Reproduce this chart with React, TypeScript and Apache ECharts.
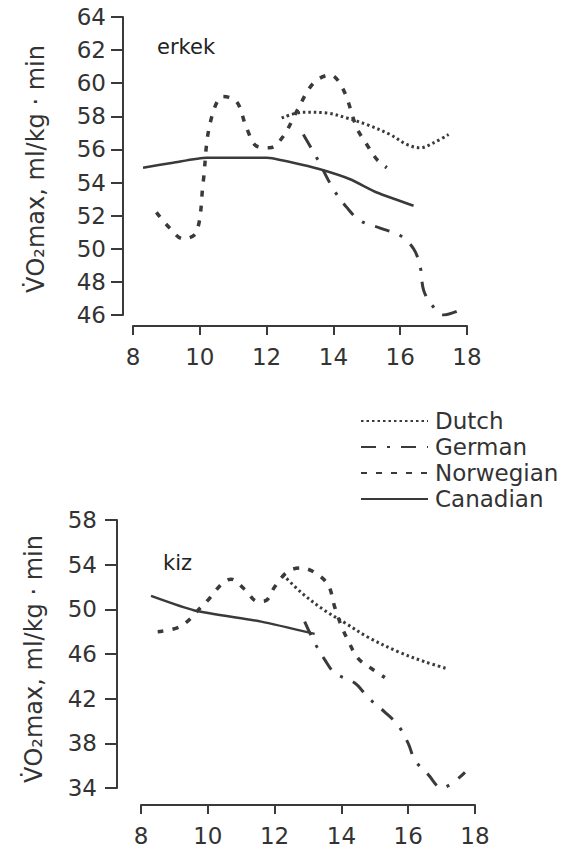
import React, { useEffect, useRef } from "react";
import * as echarts from "echarts";

// ---------- data ----------
const SERIES_NAMES = ["Dutch", "German", "Norwegian", "Canadian"];
const X_TICKS = [8, 10, 12, 14, 16, 18];
const TOP_Y_TICKS = [46, 48, 50, 52, 54, 56, 58, 60, 62, 64];
const BOTTOM_Y_TICKS = [34, 38, 42, 46, 50, 54, 58];

// erkek (boys)
const erkekDutch = [[12.45, 57.9], [13.1, 58.25], [13.8, 58.2], [14.4, 57.9], [15.0, 57.5], [15.7, 56.9], [16.2, 56.3], [16.6, 56.1], [17.0, 56.4], [17.45, 56.9]];
const erkekGerman = [[13.1, 56.9], [13.5, 55.5], [14.0, 53.6], [14.4, 52.5], [14.8, 51.7], [15.4, 51.25], [16.0, 50.8], [16.4, 50.0], [16.6, 48.9], [16.7, 47.5], [16.95, 46.6], [17.3, 46.0], [17.9, 46.4]];
const erkekNorwegian = [[8.7, 52.2], [9.1, 51.25], [9.5, 50.6], [9.9, 51.0], [10.1, 54.0], [10.3, 57.5], [10.7, 59.2], [11.1, 58.9], [11.4, 57.3], [11.7, 56.2], [12.1, 56.1], [12.5, 56.8], [12.9, 58.3], [13.4, 60.0], [13.9, 60.5], [14.3, 59.6], [14.7, 57.3], [15.0, 56.3], [15.3, 55.4], [15.6, 54.9]];
const erkekCanadian = [[8.3, 54.9], [9.2, 55.2], [10.2, 55.5], [12.0, 55.5], [12.8, 55.2], [13.6, 54.8], [14.5, 54.2], [15.3, 53.4], [16.4, 52.6]];

// kiz (girls)
const kizDutch = [[12.25, 53.1], [12.8, 51.5], [13.5, 49.9], [14.1, 48.8], [14.8, 47.5], [15.7, 46.2], [16.5, 45.3], [17.15, 44.7]];
const kizGerman = [[12.9, 48.9], [13.2, 47.0], [13.5, 45.5], [13.8, 44.3], [14.4, 43.4], [14.8, 42.1], [15.3, 40.8], [15.7, 39.6], [16.0, 38.0], [16.2, 36.5], [16.6, 35.2], [17.0, 34.0], [17.7, 35.4]];
const kizNorwegian = [[8.5, 48.0], [9.2, 48.5], [9.9, 50.5], [10.7, 52.7], [11.1, 51.8], [11.5, 50.7], [11.75, 50.8], [12.0, 52.0], [12.4, 53.4], [12.8, 53.7], [13.2, 53.3], [13.6, 52.2], [13.8, 50.2], [14.0, 48.5], [14.2, 47.2], [14.5, 45.6], [14.9, 44.7], [15.3, 43.9]];
const kizCanadian = [[8.3, 51.2], [9.6, 49.9], [11.6, 48.9], [13.2, 47.8]];

const Y_NAME = "V\u0307O\u2082max, ml/kg \u00b7 min";
const PANEL_LABELS = ["erkek", "kiz"];

// ---------- styles ----------
const INK = "#3a3a3a";
const TEXT = "#333333";
const FONT = "DejaVu Sans";

const lineStyles: Record<string, any> = {
  Dutch: { width: 3, type: [2.5, 3] },
  German: { width: 3, type: [15, 11, 3, 11] },
  Norwegian: { width: 3.5, type: [6, 9] },
  Canadian: { width: 2.5, type: "solid" },
};

function makeSeries(name: string, data: number[][], idx: number) {
  return {
    name,
    type: "line",
    xAxisIndex: idx,
    yAxisIndex: idx,
    data,
    symbol: "none",
    smooth: name === "Canadian" ? 0.2 : 0.35,
    lineStyle: { color: INK, ...lineStyles[name] },
    itemStyle: { color: INK },
  };
}

function xAxisCfg(gridIndex: number, offset: number) {
  return {
    gridIndex,
    type: "value",
    min: X_TICKS[0],
    max: X_TICKS[X_TICKS.length - 1],
    interval: 2,
    offset,
    axisLine: { show: true, onZero: false, lineStyle: { color: INK, width: 2 } },
    axisTick: { show: true, inside: false, length: 9, lineStyle: { color: INK, width: 2 } },
    axisLabel: { fontSize: 23, color: TEXT, margin: 19, fontFamily: FONT, showMinLabel: true, showMaxLabel: true },
    splitLine: { show: false },
  };
}

export default function App() {
  const ref = useRef<HTMLDivElement>(null);
  useEffect(() => {
    if (!ref.current) return;
    const chart = echarts.init(ref.current, undefined, { renderer: "svg" });
    const series: any[] = [];
    const top = [erkekDutch, erkekGerman, erkekNorwegian, erkekCanadian];
    const bot = [kizDutch, kizGerman, kizNorwegian, kizCanadian];
    SERIES_NAMES.forEach((n, i) => series.push(makeSeries(n, top[i], 0)));
    SERIES_NAMES.forEach((n, i) => series.push(makeSeries(n, bot[i], 1)));

    const option: any = {
      animation: false,
      backgroundColor: "#ffffff",
      textStyle: { fontFamily: FONT },
      grid: [
        { left: 133, top: 17, width: 334, height: 298 },
        { left: 141, top: 520, width: 334, height: 268 },
      ],
      xAxis: [xAxisCfg(0, 11), xAxisCfg(1, 17)],
      yAxis: [
        {
          gridIndex: 0,
          type: "value",
          min: TOP_Y_TICKS[0],
          max: TOP_Y_TICKS[TOP_Y_TICKS.length - 1],
          interval: 2,
          offset: 10,
          axisLine: { show: true, onZero: false, lineStyle: { color: INK, width: 2 } },
          axisTick: { show: true, inside: false, length: 12, lineStyle: { color: INK, width: 2 } },
          axisLabel: { fontSize: 23, color: TEXT, margin: 17, fontFamily: FONT, showMinLabel: true, showMaxLabel: true },
          splitLine: { show: false },
        },
        {
          gridIndex: 1,
          type: "value",
          min: BOTTOM_Y_TICKS[0],
          max: BOTTOM_Y_TICKS[BOTTOM_Y_TICKS.length - 1],
          offset: 24,
          axisLine: { show: true, onZero: false, lineStyle: { color: INK, width: 2 } },
          axisTick: { show: true, inside: false, length: 12, customValues: BOTTOM_Y_TICKS, lineStyle: { color: INK, width: 2 } },
          axisLabel: { fontSize: 23, color: TEXT, margin: 20, fontFamily: FONT, customValues: BOTTOM_Y_TICKS },
          splitLine: { show: false },
        },
      ],
      legend: {
        orient: "vertical",
        left: 355,
        top: 403,
        itemWidth: 67,
        itemHeight: 14,
        itemGap: 0,
        data: SERIES_NAMES,
        selectedMode: false,
        itemStyle: { color: "rgba(0,0,0,0)", borderWidth: 0, opacity: 0 },
        textStyle: { fontSize: 23, color: TEXT, fontFamily: FONT, lineHeight: 26, padding: [0, 0, 0, 2] },
      },
      graphic: [
        { type: "text", x: 157, y: 47, style: { text: PANEL_LABELS[0], fontSize: 21, fontFamily: FONT, fill: "#222", verticalAlign: "middle" } },
        { type: "text", x: 163, y: 563, style: { text: PANEL_LABELS[1], fontSize: 21, fontFamily: FONT, fill: "#222", verticalAlign: "middle" } },
        { type: "text", x: 36, y: 169, rotation: Math.PI / 2, style: { text: Y_NAME, fontSize: 24, fontFamily: FONT, fill: TEXT, align: "center", verticalAlign: "middle" } },
        { type: "text", x: 34, y: 659, rotation: Math.PI / 2, style: { text: Y_NAME, fontSize: 24, fontFamily: FONT, fill: TEXT, align: "center", verticalAlign: "middle" } },
      ],
      series,
    };
    chart.setOption(option);
    return () => chart.dispose();
  }, []);
  return <div ref={ref} style={{ position: "absolute", left: 0, top: 0, width: 574, height: 848, background: "#fff" }} />;
}
